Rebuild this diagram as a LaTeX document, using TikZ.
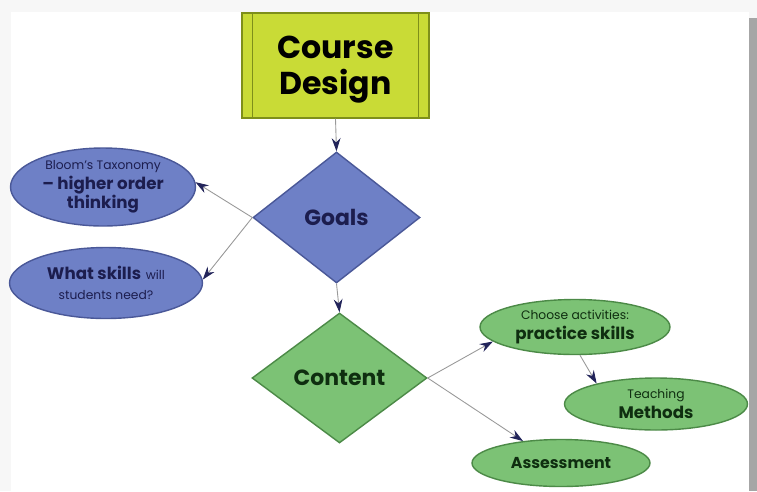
\documentclass[tikz,border=0pt]{standalone}
\usepackage{fontspec}
\setmainfont{Poppins}
\usetikzlibrary{positioning,shapes.geometric,arrows.meta}

\definecolor{lime}{HTML}{C9DB36}
\definecolor{limeline}{HTML}{7E8F1A}
\definecolor{blu}{HTML}{6E80C6}
\definecolor{bluline}{HTML}{4A5898}
\definecolor{grn}{HTML}{7CC275}
\definecolor{grnline}{HTML}{4C8A47}
\definecolor{navytxt}{HTML}{1C1D4E}
\definecolor{grntxt}{HTML}{0F2E10}
\definecolor{tipcol}{HTML}{22245A}

\newcommand{\sm}[1]{{\fontsize{7}{8.5}\selectfont #1}}
\newcommand{\md}[1]{{\fontsize{9.5}{11}\selectfont\bfseries #1}}

\begin{document}
\begin{tikzpicture}[x=0.02cm, y=-0.02cm,
  link/.style={draw=gray!80, line width=0.5pt,
    -{Stealth[length=7.5pt, width=5pt, color=tipcol]}},
  bubble/.style={ellipse, inner sep=0pt, line width=0.8pt, align=center},
  bluebubble/.style={bubble, fill=blu, draw=bluline, text=navytxt},
  greenbubble/.style={bubble, fill=grn, draw=grnline, text=grntxt},
  rhomb/.style={diamond, inner sep=0pt, line width=0.8pt,
    font=\fontsize{12.5}{14}\selectfont\bfseries}]
\useasboundingbox (0,0) rectangle (757,491);
% slide and its shadow
\fill[gray!6] (0,0) rectangle (757,491);
\fill[gray!70] (749,18) rectangle (757,491);
\fill[white] (11,12) rectangle (749,491);

\def\xg{336.5};
\def\yg{217.5};
\def\xc{339.5};
\def\yc{378};

\node[rectangle, fill=lime, draw=limeline, line width=0.8pt,
  minimum width=3.74cm, minimum height=2.1cm] (cd) at (335.5, 65.5) {};
\node[align=center, font=\fontsize{18}{20.5}\selectfont\bfseries] (cdtext)
  at (335.5, 70) {Course\\Design};
\draw[limeline] ([xshift=0.22cm]cd.north west) -- ([xshift=0.22cm]cd.south west);
\draw[limeline] ([xshift=-0.22cm]cd.north east) -- ([xshift=-0.22cm]cd.south east);

\node[rhomb, fill=blu, draw=bluline, text=navytxt,
  minimum width=3.34cm, minimum height=2.62cm] (goals) at (\xg, \yg) {Goals};
\node[rhomb, fill=grn, draw=grnline, text=grntxt,
  minimum width=3.5cm, minimum height=2.6cm] (content) at (\xc, \yc) {Content};

\node[bluebubble, minimum width=3.7cm, minimum height=1.56cm] (bloom) at (103, 187)
  {\sm{Bloom's Taxonomy}\\[-1pt]\md{-- higher order}\\[-1pt]\md{thinking}};
\node[bluebubble, minimum width=3.86cm, minimum height=1.42cm] (skills) at (106, 283)
  {\md{What skills} \sm{will}\\[-1pt]\sm{students need?}};

\node[greenbubble, minimum width=3.8cm, minimum height=1.1cm] (choose) at (575, 327)
  {\sm{Choose activities:}\\[-1pt]\md{practice skills}};
\node[greenbubble, minimum width=3.66cm, minimum height=1.04cm] (teach) at (656, 404)
  {\sm{Teaching}\\[-1pt]\md{Methods}};
\node[greenbubble, minimum width=3.56cm, minimum height=0.94cm] (assess) at (561, 463)
  {\fontsize{9}{11}\selectfont\bfseries Assessment};

\draw[link] (cd.south) -- (goals.north);
\draw[link] (goals.south) -- (content.north);
\draw[link] (goals.west) -- (bloom.3);
\draw[link] (goals.west) -- (skills.2);
\draw[link] (content.east) -- (choose.190);
\draw[link] (content.east) -- (assess.150);
\draw[link] (choose.280) -- (teach.161);
\end{tikzpicture}
\end{document}
